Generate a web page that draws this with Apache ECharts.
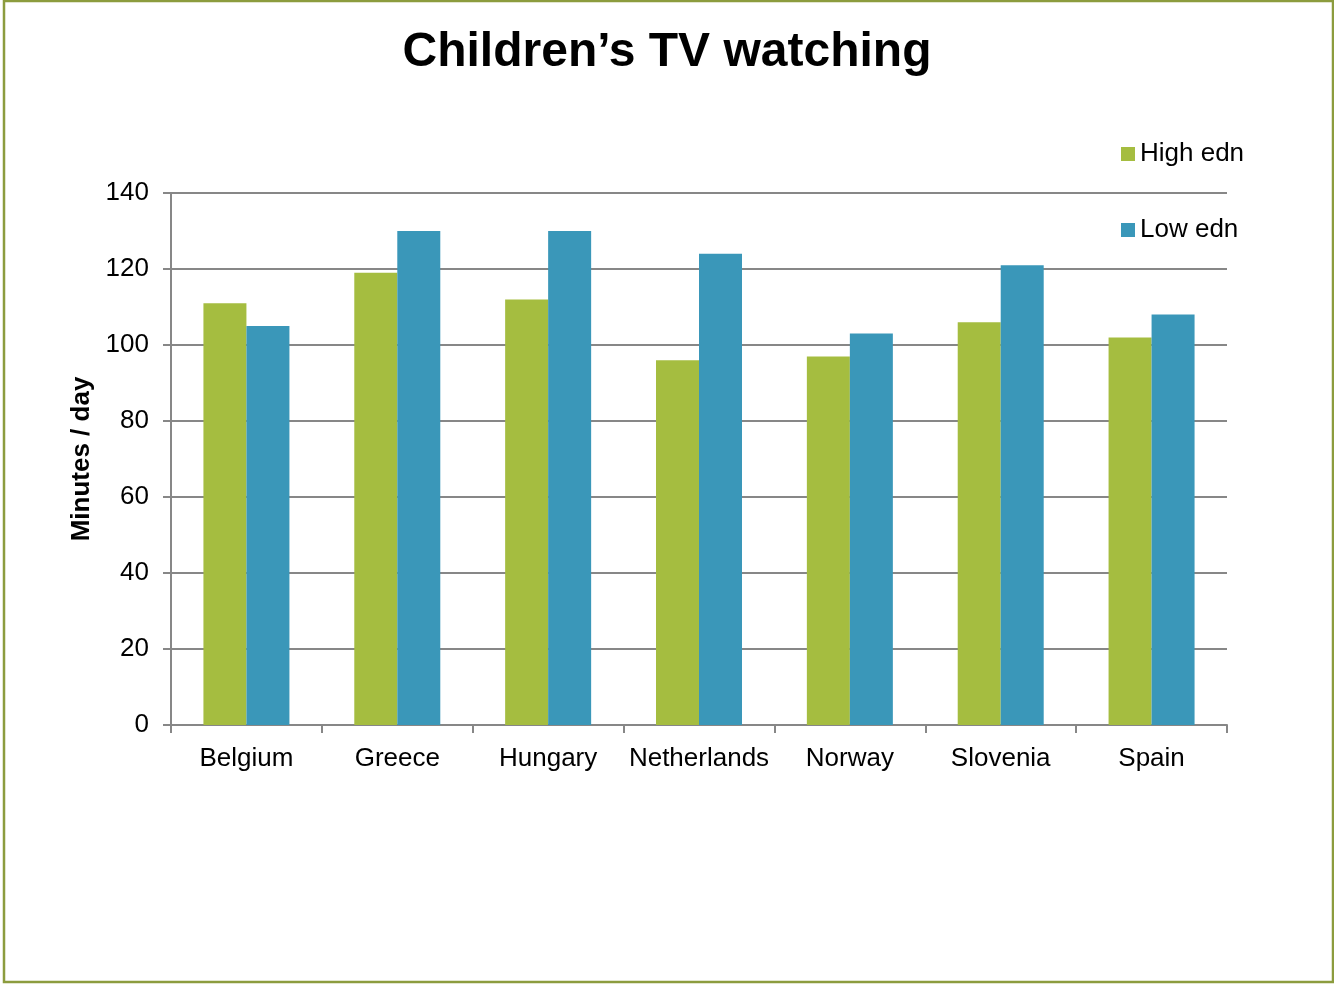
<!DOCTYPE html>
<html>
<head>
<meta charset="utf-8">
<script src="https://cdn.jsdelivr.net/npm/echarts@6/dist/echarts.min.js"></script>
<style>
  html, body { margin: 0; padding: 0; background: #fff; }
  #chart { width: 1334px; height: 984px; }
</style>
</head>
<body>
<div id="chart"></div>
<script>
// Average daily TV viewing of children, by parental education level
const countries = ['Belgium', 'Greece', 'Hungary', 'Netherlands', 'Norway', 'Slovenia', 'Spain'];
const highEdn = [111, 119, 112, 96, 97, 106, 102];
const lowEdn = [105, 130, 130, 124, 103, 121, 108];
const yTicks = { min: 0, max: 140, interval: 20 };

const FONT = '"Liberation Sans", Arial, sans-serif';
const gridLine = '#878787';

const chart = echarts.init(document.getElementById('chart'));
chart.setOption({
  backgroundColor: '#fff',
  animation: false,
  textStyle: { fontFamily: FONT },
  title: {
    text: 'Children\u2019s TV watching',
    left: 'center',
    top: 24,
    textStyle: { fontFamily: FONT, fontSize: 48, fontWeight: 'bold', color: '#000' }
  },
  graphic: [{
    type: 'rect',
    shape: { x: 4, y: 1, width: 1329, height: 981 },
    style: { fill: 'none', stroke: '#8c9c3e', lineWidth: 2.5 },
    silent: true
  }],
  legend: {
    orient: 'vertical',
    left: 1116,
    top: 136,
    itemWidth: 14,
    itemHeight: 14,
    itemGap: 50,
    icon: 'rect',
    textStyle: { fontFamily: FONT, fontSize: 26, color: '#000' },
    data: ['High edn', 'Low edn']
  },
  grid: { left: 171, right: 107, top: 193, bottom: 259, containLabel: false },
  xAxis: {
    type: 'category',
    data: countries,
    axisLine: { show: true, lineStyle: { color: gridLine, width: 2 } },
    axisTick: { show: true, length: 8, interval: 0, alignWithLabel: false, lineStyle: { color: gridLine, width: 2 } },
    axisLabel: { fontFamily: FONT, fontSize: 26, color: '#000', margin: 21, interval: 0 }
  },
  yAxis: {
    type: 'value',
    min: yTicks.min,
    max: yTicks.max,
    interval: yTicks.interval,
    name: 'Minutes / day',
    nameLocation: 'middle',
    nameGap: 74,
    nameTextStyle: { fontFamily: FONT, fontSize: 26, fontWeight: 'bold', color: '#000' },
    axisLine: { show: true, lineStyle: { color: gridLine, width: 2 } },
    axisTick: { show: true, length: 8, inside: false, lineStyle: { color: gridLine, width: 2 } },
    axisLabel: { fontFamily: FONT, fontSize: 26, color: '#000', margin: 22 },
    splitLine: { show: true, lineStyle: { color: gridLine, width: 2 } }
  },
  series: [
    {
      name: 'High edn',
      type: 'bar',
      data: highEdn,
      barWidth: 43,
      barGap: '0%',
      itemStyle: { color: '#a5bd40' }
    },
    {
      name: 'Low edn',
      type: 'bar',
      data: lowEdn,
      barWidth: 43,
      barGap: '0%',
      itemStyle: { color: '#3a97b9' }
    }
  ]
});
</script>
</body>
</html>
